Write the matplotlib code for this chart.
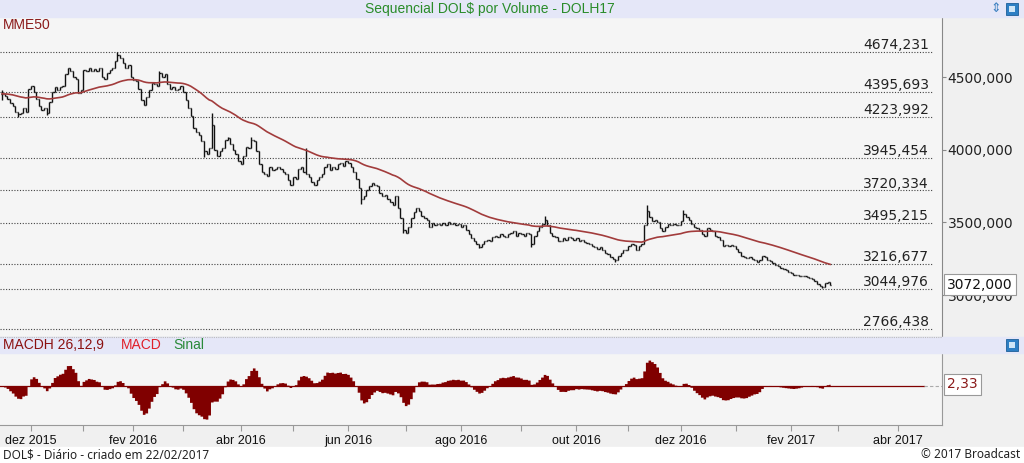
import matplotlib
matplotlib.use("Agg")
import matplotlib.pyplot as plt
from matplotlib.collections import LineCollection
from matplotlib.patches import Rectangle
import numpy as np
import pandas as pd

# ---------------------------------------------------------------------------
# Dados (fechamento por pregão, 13/11/2015 -> 22/02/2017)
# ---------------------------------------------------------------------------
fech_nov15_mar16 = [
    4385, 4370, 4350, 4320, 4300, 4260, 4245, 4250, 4290, 4260,
    4420, 4440, 4400, 4350, 4300, 4270, 4290, 4250, 4330, 4400,
    4430, 4410, 4430, 4440, 4520, 4560, 4540, 4500, 4490, 4390,
    4410, 4550, 4540, 4560, 4545, 4555, 4540, 4560, 4500, 4490,
    4530, 4550, 4560, 4610, 4650, 4630, 4600, 4560, 4580, 4500,
    4480, 4470, 4420, 4340, 4310, 4360, 4410, 4460, 4455, 4440,
    4530, 4500, 4520, 4450, 4420, 4430, 4410, 4420, 4440, 4400,
    4340, 4290, 4230, 4150, 4120, 4100, 4060, 3990, 3970, 4010,
    4170,
]
fech_mar16_jul16 = [
    4000, 3960, 3990, 4010, 4070, 4080, 4040, 4000, 3970, 3920,
    3900, 3960, 4020, 4010, 4070, 4060, 3990, 3900, 3850, 3830,
    3820, 3880, 3860, 3870, 3880, 3865, 3850, 3830, 3790, 3760,
    3810, 3800, 3870, 3880, 3850, 3830, 3810, 3780, 3760, 3790,
    3810, 3830, 3880, 3900, 3860, 3880, 3870, 3900, 3910, 3890,
    3920, 3910, 3880, 3850, 3800, 3740, 3660, 3680, 3720, 3750,
    3770, 3760, 3750, 3700, 3680, 3690, 3660, 3640, 3620, 3680,
    3600, 3530, 3450, 3430, 3470,
]
fech_jul16_nov16 = [
    3530, 3570, 3600, 3580, 3545, 3530, 3515, 3470, 3495, 3485,
    3490, 3480, 3495, 3485, 3500, 3490, 3495, 3480, 3490, 3470,
    3480, 3450, 3420, 3390, 3370, 3350, 3330, 3350, 3370, 3380,
    3370, 3400, 3410, 3400, 3420, 3410, 3400, 3420, 3430, 3440,
    3410, 3430, 3420, 3410, 3430, 3420, 3350, 3410, 3440, 3470,
    3490, 3520, 3480, 3430, 3410, 3400, 3370, 3370, 3390, 3380,
    3400, 3390, 3380, 3395, 3370, 3380, 3365, 3360, 3355, 3340,
    3330, 3320, 3330, 3310, 3290, 3280, 3260, 3250, 3240, 3270,
    3290, 3310,
]
fech_nov16_fev17 = [
    3310, 3340, 3350, 3345, 3310, 3340, 3350, 3480, 3580, 3540,
    3510, 3520, 3500, 3460, 3440, 3470, 3490, 3480, 3490, 3485,
    3480, 3510, 3560, 3540, 3520, 3490, 3470, 3460, 3450, 3420,
    3410, 3460, 3450, 3440, 3410, 3400, 3380, 3340, 3345, 3340,
    3345, 3335, 3320, 3300, 3270, 3260, 3255, 3260, 3250, 3245,
    3225, 3240, 3270, 3260, 3240, 3235, 3220, 3210, 3200, 3190,
    3180, 3170, 3160, 3150, 3140, 3140, 3135, 3135, 3130, 3125,
    3120, 3110, 3100, 3075, 3060, 3055, 3085, 3090, 3072,
]

# máximas / mínimas que se destacam (índice do pregão)
maximas_idx = [0, 44, 60, 80, 86, 95, 116, 207, 246, 260]
maximas_val = [4410, 4674.231, 4541, 4250, 4090, 4090, 4010, 3545, 3620, 3585]
minimas_idx = [0, 6, 17, 77, 137, 153, 182, 202, 234, 313]
minimas_val = [4345, 4227, 4239, 3950, 3630, 3425, 3322, 3333, 3230, 3047]

# níveis de Fibonacci desenhados
niveis_fibo = [4674.231, 4395.693, 4223.992, 3945.454, 3720.334,
               3495.215, 3216.677, 3044.976, 2766.438]

ticks_preco = [3000, 3500, 4000, 4500]
macdh_ultimo = 2.33

feriados = pd.to_datetime([
    "2015-11-20", "2015-12-24", "2015-12-25", "2015-12-31", "2016-01-01",
    "2016-01-25", "2016-02-08", "2016-02-09", "2016-03-25", "2016-04-21",
    "2016-05-26", "2016-09-07", "2016-10-12", "2016-11-02", "2016-11-15",
    "2016-12-30", "2017-01-25", "2017-02-27", "2017-02-28", "2017-04-14",
    "2017-04-21",
])
MESES = ["jan", "fev", "mar", "abr", "mai", "jun",
         "jul", "ago", "set", "out", "nov", "dez"]

# ---------------------------------------------------------------------------
fech = np.array(fech_nov15_mar16 + fech_mar16_jul16 + fech_jul16_nov16
                + fech_nov16_fev17, dtype=float)
n = len(fech)
x = np.arange(n)
abert = np.r_[fech[0], fech[:-1]]
maxi = np.maximum(abert, fech)
mini = np.minimum(abert, fech)
maxi[maximas_idx] = np.maximum(maxi[maximas_idx], maximas_val)
mini[minimas_idx] = np.minimum(mini[minimas_idx], minimas_val)

s = pd.Series(fech)
mme50 = s.ewm(span=50, adjust=False).mean()
macd = s.ewm(span=12, adjust=False).mean() - s.ewm(span=26, adjust=False).mean()
sinal = macd.ewm(span=9, adjust=False).mean()
macdh = (macd - sinal).values

dias = pd.bdate_range("2015-11-13", "2017-04-30")
dias = dias[~dias.isin(feriados)]
novo_mes = np.r_[False, dias.month[1:] != dias.month[:-1]]
pos_meses = np.where(novo_mes)[0]
rot_meses = [f"{MESES[dias[i].month - 1]} {dias[i].year}"
             if dias[i].month % 2 == 0 else "" for i in pos_meses]

# ---------------------------------------------------------------------------
W, H = 1024, 463
fig = plt.figure(figsize=(W / 100, H / 100), dpi=100)
fig.patch.set_facecolor("#f0f0f0")


def fx(px):
    return px / W


def fy(py):
    return 1 - py / H


BG = "#f5f5f5"
XLIM = (-0.83, 358.7)

# faixas de título
for y0, y1 in [(0, 17), (337, 353)]:
    fig.patches.append(Rectangle((0, fy(y1)), 1, fy(y0) - fy(y1),
                                 transform=fig.transFigure, color="#e5e7f8",
                                 zorder=0))
fig.patches.append(Rectangle((0, 0), 1, fy(447), transform=fig.transFigure,
                             color="#ffffff", zorder=0))

ax = fig.add_axes([0, fy(336), fx(942), fy(17) - fy(336)])
axm = fig.add_axes([0, fy(425), fx(942), fy(353) - fy(425)])

# ---- painel de preço ------------------------------------------------------
ax.set_facecolor(BG)
ax.set_xlim(*XLIM)
ax.set_ylim(2719, 4913)

for nv in niveis_fibo:
    ax.plot([XLIM[0], 354.9], [nv, nv], color="#444444", lw=0.8,
            ls=(0, (1, 1.5)), zorder=1)
    ax.annotate(f"{nv:.3f}".replace(".", ","), xy=(353.7, nv),
                xytext=(0, 2), textcoords="offset points", ha="right",
                va="baseline", fontsize=10, color="#222222",
                family="DejaVu Sans")

segs = []
for xi, oi, hi, lo, ci in zip(x, abert, maxi, mini, fech):
    segs.append([(xi, lo), (xi, hi)])
    segs.append([(xi - 0.45, oi), (xi, oi)])
    segs.append([(xi, ci), (xi + 0.45, ci)])
ax.add_collection(LineCollection(segs, colors="#111111", linewidths=1.0,
                                 zorder=3))
ax.plot(x, mme50, color="#a23c3c", lw=1.2, zorder=4)

ax.yaxis.tick_right()
ax.set_yticks(ticks_preco)
ax.set_yticklabels([f"{t:.3f}".replace(".", ",") for t in ticks_preco],
                   family="DejaVu Sans", fontsize=10, color="#222222")
ax.tick_params(axis="y", direction="out", length=3, color="#888888", pad=1)
ax.set_xticks([])
for sp in ["top", "left", "bottom"]:
    ax.spines[sp].set_visible(False)
ax.spines["right"].set_color("#888888")

ax.text(1.0055, fech[-1], f"{fech[-1]:.3f}".replace(".", ","),
        transform=ax.get_yaxis_transform(), ha="left", va="center",
        fontsize=10, color="#111111", family="DejaVu Sans", zorder=10,
        bbox=dict(boxstyle="square,pad=0.25", fc="white", ec="#999999",
                  lw=0.8))

# separador pontilhado
fig.add_artist(plt.Line2D([0, fx(942)], [fy(336.5), fy(336.5)],
                          transform=fig.transFigure, color="#bbbbbb",
                          lw=0.8, ls=(0, (1, 1))))

# ---- painel MACD ----------------------------------------------------------
axm.set_facecolor(BG)
axm.set_xlim(*XLIM)
amp = macdh.max() - macdh.min()
axm.set_ylim(macdh.min() - 0.1 * amp, macdh.max() + 0.12 * amp)
axm.fill_between(x, 0, macdh, step="mid", color="#800000", lw=0)
axm.plot([XLIM[0], 352], [0, 0], color="#800000", lw=0.9)
axm.plot([352, XLIM[1]], [0, 0], color="#aaaaaa", lw=0.8, ls=(0, (3, 2)))
axm.text(1.0055, macdh_ultimo, f"{macdh_ultimo:.2f}".replace(".", ","),
         transform=axm.get_yaxis_transform(), ha="left", va="center",
         fontsize=10, color="#8b1a1a", family="DejaVu Sans",
         bbox=dict(boxstyle="square,pad=0.25", fc="white", ec="#999999",
                   lw=0.8))
axm.set_yticks([])
axm.set_xticks(pos_meses)
axm.set_xticklabels(rot_meses, family="Liberation Sans", fontsize=9,
                    color="#111111")
axm.tick_params(axis="x", direction="out", length=4, color="#999999", pad=3)
for sp in ["top", "left"]:
    axm.spines[sp].set_visible(False)
for sp in ["bottom", "right"]:
    axm.spines[sp].set_color("#999999")

# ---- textos ---------------------------------------------------------------
fig.text(fx(490), fy(9), "Sequencial DOL$ por Volume - DOLH17",
         ha="center", va="center", fontsize=10, color="#2a8c2a",
         family="Liberation Sans")
fig.text(fx(3), fy(25), "MME50", ha="left", va="center", fontsize=10,
         color="#8b1a1a", family="Liberation Sans")
fig.text(fx(3), fy(345), "MACDH 26,12,9", ha="left", va="center",
         fontsize=10, color="#8b1010", family="Liberation Sans")
fig.text(fx(121), fy(345), "MACD", ha="left", va="center", fontsize=10,
         color="#e0202a", family="Liberation Sans")
fig.text(fx(173), fy(345), "Sinal", ha="left", va="center", fontsize=10,
         color="#2a8a3a", family="Liberation Sans")
fig.text(fx(3), fy(455), "DOL$ - Diário - criado em 22/02/2017", ha="left",
         va="center", fontsize=8.5, color="#222222", family="Noto Sans")
fig.text(fx(1020), fy(455), "© 2017 Broadcast", ha="right", va="center",
         fontsize=8.5, color="#222222", family="Noto Sans")

# ícones
for y0 in (3, 339):
    fig.patches.append(Rectangle((fx(1006), fy(y0 + 12)), fx(12), 12 / H,
                                 transform=fig.transFigure, fc="#2d7fc4",
                                 ec="#1d5f9a", lw=0.6))
    fig.patches.append(Rectangle((fx(1009), fy(y0 + 9)), fx(6), 6 / H,
                                 transform=fig.transFigure, fc="#cfe6f7",
                                 ec="none"))
fig.text(fx(996), fy(9), "⇕", ha="center", va="center", fontsize=9,
         color="#3a7fc0", family="DejaVu Sans")

fig.savefig("out.png", dpi=100, facecolor=fig.get_facecolor())
